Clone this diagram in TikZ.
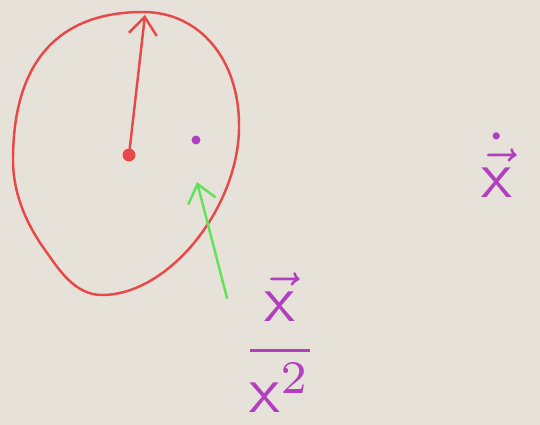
\documentclass[tikz,border=0pt]{standalone}
\usepackage{amsmath}
\usetikzlibrary{arrows.meta}
\definecolor{paper}{RGB}{230,226,217}
\definecolor{redpen}{RGB}{232,72,72}
\definecolor{greenpen}{RGB}{98,226,88}
\definecolor{purplepen}{RGB}{178,62,192}
\tikzset{
  pen/.style={line width=1.4pt, line cap=round, line join=round},
  hand/.style={-{Straight Barb[length=10pt,width=16pt,line width=1.4pt]}},
  ink/.style={purplepen, scale=3.8, inner sep=0pt},
}
\begin{document}
\begin{tikzpicture}[x=0.02cm,y=-0.02cm]
    % paper
    \fill[paper] (0,0) rectangle (540,425);
    % the loop
    \draw[pen, redpen] (143,12) .. controls (200,12) and (239,60) .. (239,125)
        .. controls (240,205) and (170,295) .. (102,295)
        .. controls (74,295) and (58,268) .. (45,250)
        .. controls (27.6,225.7) and (13,195) .. (13,160)
        .. controls (13,60) and (60,12) .. cycle;
    % centre and radius
    \node[circle, fill=redpen, inner sep=2.6pt] (c) at (129,155) {};
    \coordinate (top) at (145,15);
    \draw[pen, redpen, hand] (c) -- (top);
    % the point
    \node[circle, fill=purplepen, inner sep=1.8pt] (p) at (196,140) {};
    % field arrow
    \coordinate (gtail) at (227,298);
    \coordinate (gtip) at (197,182);
    \draw[pen, greenpen, hand] (gtail) -- (gtip);
    % labels
    \node[ink] (xdot) at (497,165) {$\dot{\vec{\mathsf{x}}}$};
    \node[ink] (frac) at (280,343) {$\dfrac{\vec{\mathsf{x}}}{\mathsf{x}^{2}}$};
\end{tikzpicture}
\end{document}
